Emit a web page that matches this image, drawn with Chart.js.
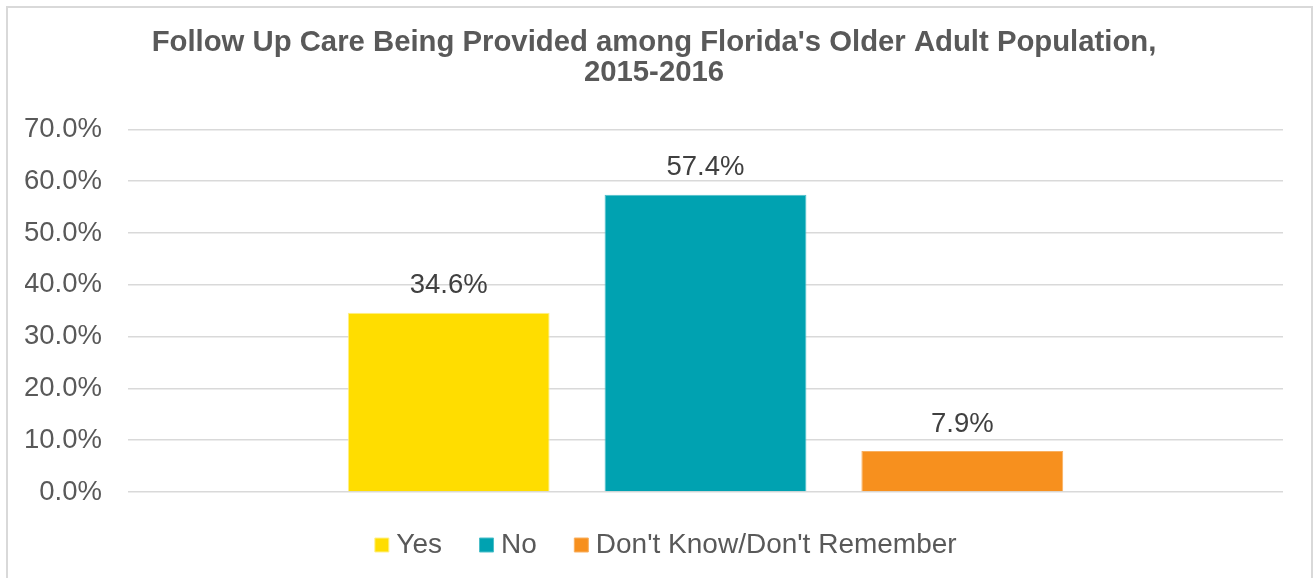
<!DOCTYPE html>
<html>
<head>
<meta charset="utf-8">
<script src="https://cdn.jsdelivr.net/npm/chart.js@4"></script>
<style>
  html, body { margin: 0; padding: 0; background: #fff; overflow: hidden; }
  #frame { position: absolute; left: 6px; top: 6px; width: 1303px; height: 620px; border: 2px solid #d9d9d9; }
  #chart { position: absolute; left: 0; top: 0; }
</style>
</head>
<body>
<div id="frame"></div>
<canvas id="chart" width="1315" height="578"></canvas>
<script>
const categories = [''];
const seriesNames = ['Yes', 'No', "Don't Know/Don't Remember"];
const seriesValues = [[34.6], [57.4], [7.9]];
const seriesColors = ['#ffdd00', '#00a2b1', '#f7901e'];
const seriesBorders = ['#fff08c', '#4dbfca', '#f9b060'];
const yTicks = [0, 10, 20, 30, 40, 50, 60, 70];

const FONT = "'Liberation Sans', Arial, sans-serif";

// draws the value above each bar
const valueLabels = {
    id: 'valueLabels',
    afterDatasetsDraw(chart) {
        const ctx = chart.ctx;
        ctx.save();
        ctx.font = '27.5px ' + FONT;
        ctx.fillStyle = '#404040';
        ctx.textAlign = 'center';
        ctx.textBaseline = 'middle';
        chart.data.datasets.forEach((ds, i) => {
            chart.getDatasetMeta(i).data.forEach((bar, j) => {
                ctx.fillText(ds.data[j].toFixed(1) + '%', bar.x, bar.y - 27);
            });
        });
        ctx.restore();
    }
};

// nudge the legend right and up, like the original
const legendShift = {
    id: 'legendShift',
    afterLayout(chart) {
        const lg = chart.legend;
        lg.left += 15;
        lg.right += 15;
        lg.top -= 13;
        lg.bottom -= 13;
    }
};

document.addEventListener('DOMContentLoaded', () => {
    const ctx = document.getElementById('chart').getContext('2d');
    new Chart(ctx, {
        type: 'bar',
        data: {
            labels: categories,
            datasets: seriesNames.map((name, i) => ({
                label: name,
                data: seriesValues[i],
                backgroundColor: seriesColors[i],
                borderColor: seriesBorders[i],
                borderWidth: 1,
                categoryPercentage: 0.667,
                barPercentage: 0.786
            }))
        },
        options: {
            responsive: false,
            devicePixelRatio: 1,
            animation: false,
            layout: { padding: { left: 25, right: 32, top: 0, bottom: -4 } },
            scales: {
                x: {
                    ticks: { display: false },
                    grid: { display: false },
                    border: { display: false }
                },
                y: {
                    min: 0,
                    max: 70,
                    afterBuildTicks: axis => { axis.ticks = yTicks.map(v => ({ value: v })); },
                    afterFit: axis => { axis.width = 103; },
                    ticks: {
                        padding: 26,
                        color: '#595959',
                        font: { family: FONT, size: 27.5 },
                        callback: v => v.toFixed(1) + '%'
                    },
                    grid: { color: '#d9d9d9', lineWidth: 1.5, drawTicks: false },
                    border: { display: false }
                }
            },
            plugins: {
                title: {
                    display: true,
                    text: ["Follow Up Care Being Provided among Florida's Older Adult Population,", '2015-2016'],
                    color: '#595959',
                    font: { family: FONT, size: 29.3, weight: 'bold', lineHeight: 1.03 },
                    padding: { top: 28, bottom: 41 }
                },
                legend: {
                    position: 'bottom',
                    labels: {
                        color: '#595959',
                        font: { family: FONT, size: 28 },
                        usePointStyle: true,
                        pointStyle: 'rect',
                        boxWidth: 1,
                        boxHeight: 14,
                        padding: 44
                    }
                },
                tooltip: { enabled: false }
            }
        },
        plugins: [valueLabels, legendShift]
    });
});
</script>
</body>
</html>
